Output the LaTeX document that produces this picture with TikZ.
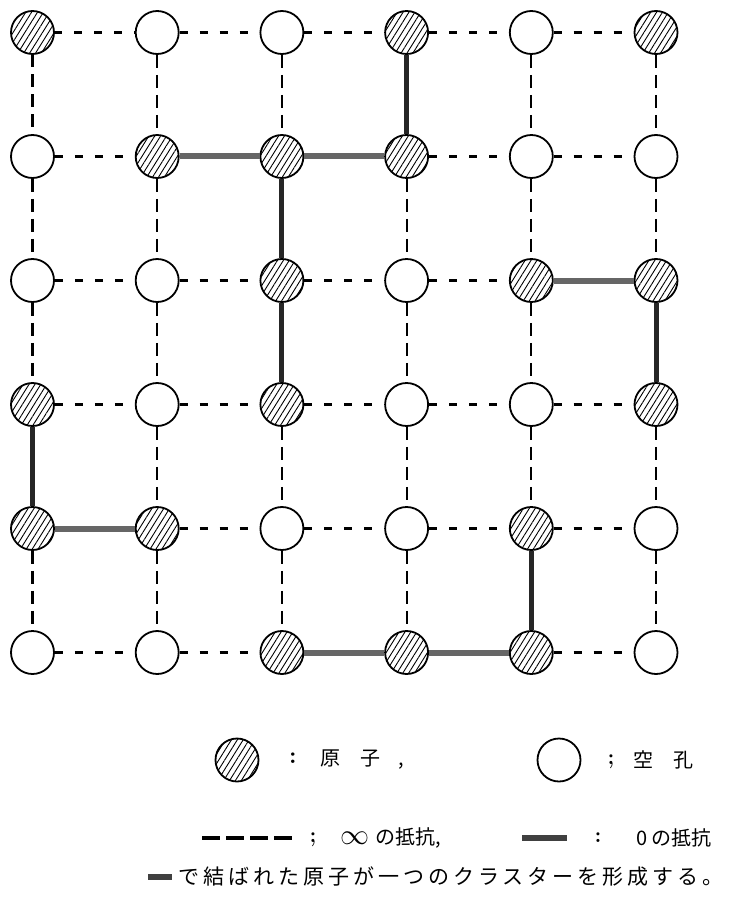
\documentclass[tikz,border=0pt]{standalone}
\usepackage{graphicx}
\usepackage{fontspec}
\newfontfamily\jp{Noto Sans CJK JP}
\newfontfamily\jpwide[LetterSpace=19]{Noto Sans CJK JP}
\usetikzlibrary{patterns.meta}

\begin{document}
\begin{tikzpicture}[x=1pt, y=-1pt,
    site/.style={circle, draw, line width=1.8pt, minimum size=43pt, inner sep=0pt},
    atom/.style={site, pattern={Lines[angle=58, distance=5pt, line width=0.9pt]}},
    hole/.style={site, fill=white},
    infh/.style={draw=black, line width=2.2pt, dash pattern=on 8pt off 12pt},
    infv/.style={draw=black, line width=2.2pt, dash pattern=on 13pt off 7pt},
    zeroh/.style={line width=6pt, black!60},
    zerov/.style={line width=5pt, black!85},
    lbl/.style={inner sep=0pt, font=\jp\fontsize{20}{20}\selectfont}]
    \useasboundingbox (0,0) rectangle (731,912);
    \pgfmathsetmacro{\dx}{124.7}
    \pgfmathsetmacro{\dy}{124}
    % lattice sites
    \foreach \r/\row in {1/{atom,hole,hole,atom,hole,atom},
                         2/{hole,atom,atom,atom,hole,hole},
                         3/{hole,hole,atom,hole,atom,atom},
                         4/{atom,hole,atom,hole,hole,atom},
                         5/{atom,atom,hole,hole,atom,hole},
                         6/{hole,hole,atom,atom,atom,hole}}
      \foreach \kind [count=\c] in \row
        \node[\kind] (s\r\c) at ({32.5+\dx*(\c-1)}, {32.5+\dy*(\r-1)}) {};
    % infinite resistance everywhere
    \foreach \i in {1,...,6}
      \foreach \j/\k in {1/2,2/3,3/4,4/5,5/6} {
        \path[infh] (s\i\j) -- (s\i\k);
        \path[infv] (s\j\i) -- (s\k\i);
      }
    % zero resistance between neighbouring atoms
    \foreach \a/\b in {s22/s23, s23/s24, s35/s36, s51/s52, s63/s64, s64/s65}
      \draw[zeroh] (\a) -- (\b);
    \foreach \a/\b in {s14/s24, s23/s33, s33/s43, s36/s46, s41/s51, s55/s65}
      \draw[zerov] (\a) -- (\b);
    % key
    \node[atom] (katom) at (237,760) {};
    \node[lbl, font=\bfseries\fontsize{24}{24}\selectfont] (kc1) at (293,758) {:};
    \node[lbl, anchor=west] (katomtxt) at (320,760) {原\hspace{20pt}子\hspace{18pt},};
    \node[hole] (khole) at (559,760) {};
    \node[lbl, font=\bfseries\fontsize{22}{22}\selectfont] (kc2) at (611,762) {;};
    \node[lbl, anchor=west] (kholetxt) at (633,760) {空\hspace{20pt}孔};
    \coordinate (kd1) at (202,838);
    \coordinate (kd2) at (297,838);
    \draw[line width=4pt, dash pattern=on 17.5pt off 6.5pt] (kd1) -- (kd2);
    \node[lbl, font=\bfseries\fontsize{22}{22}\selectfont] (kc3) at (313,840) {;};
    \node[lbl, anchor=west] (kinf) at (340,838) {\scalebox{1.4}{$\infty$}\hspace{6pt}の抵抗,};
    \coordinate (kb1) at (522,838);
    \coordinate (kb2) at (567,838);
    \draw[zeroh, line width=6.5pt, black!75] (kb1) -- (kb2);
    \node[lbl, font=\bfseries\fontsize{22}{22}\selectfont] (kc4) at (598,838) {:};
    \node[lbl, anchor=west] (kzero) at (636,838) {0\hspace{4pt}の抵抗};
    \coordinate (kb3) at (148,877);
    \coordinate (kb4) at (172,877);
    \draw[zeroh, line width=6.5pt, black!75] (kb3) -- (kb4);
    \node[lbl, anchor=west, font=\jpwide\fontsize{21}{21}\selectfont] (kcluster) at (178,877)
      {で結ばれた原子が一つのクラスターを形成する。};
\end{tikzpicture}
\end{document}
